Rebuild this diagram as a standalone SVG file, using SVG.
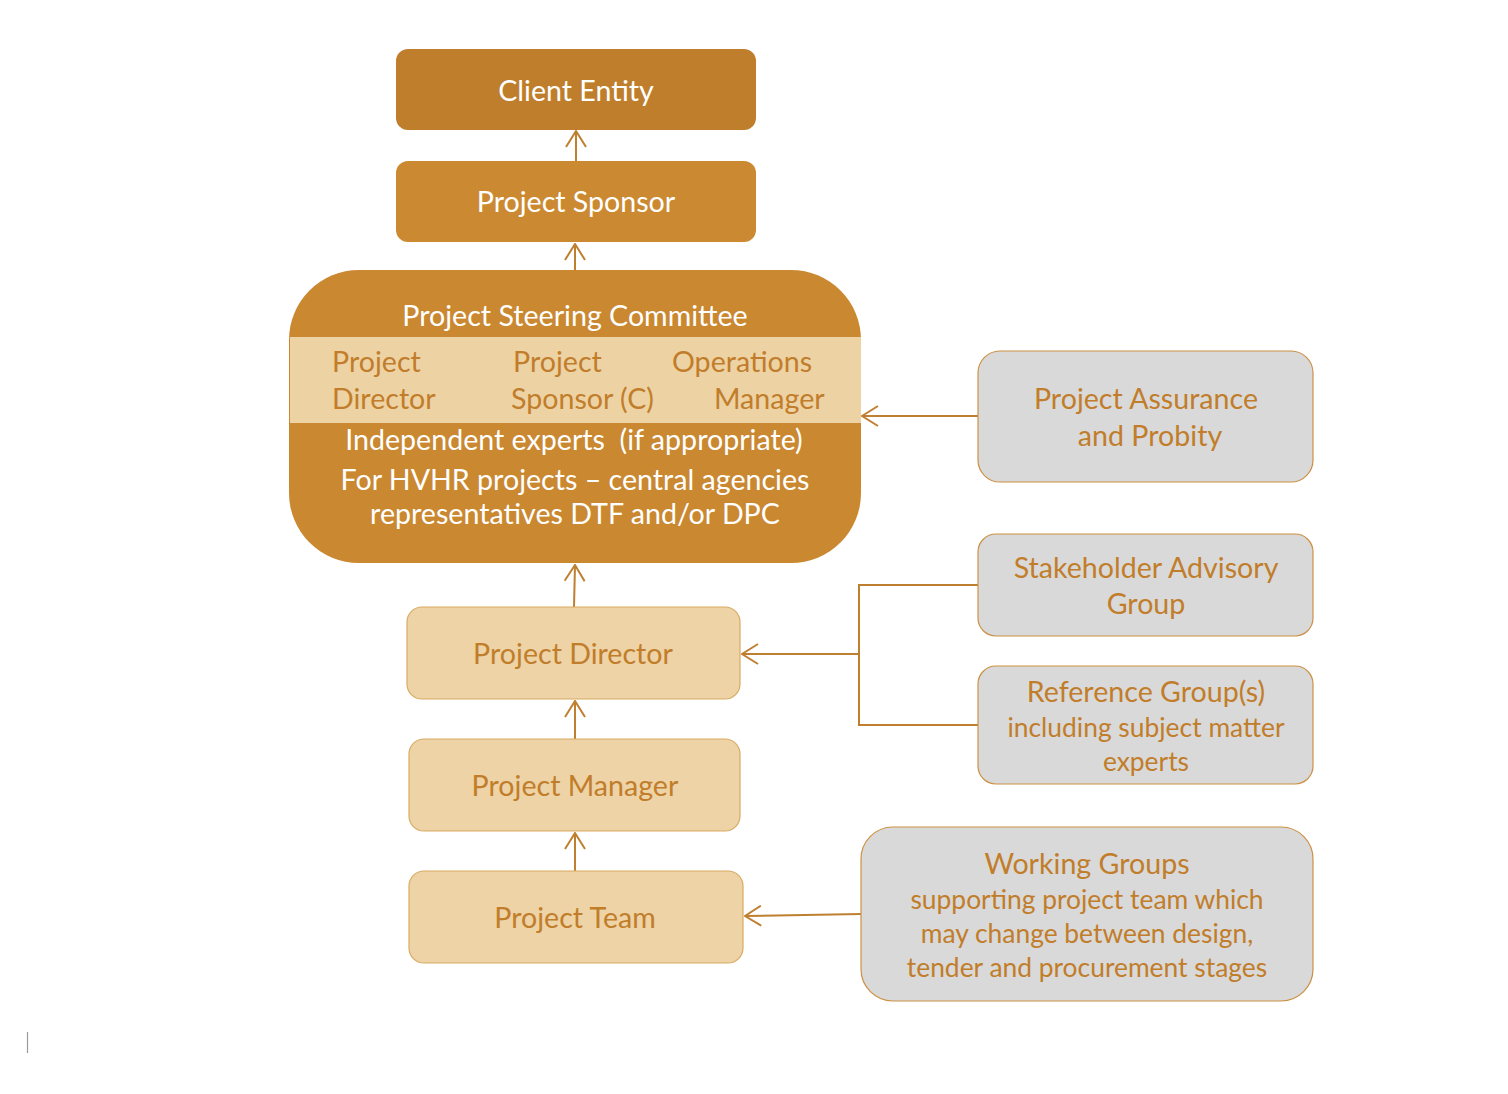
<svg xmlns="http://www.w3.org/2000/svg" width="1508" height="1094" viewBox="0 0 1508 1094">
<style>
.t{font-family:Lato,"Open Sans","Liberation Sans",sans-serif;text-anchor:middle}
.w{fill:#FFFFFF;font-size:28.6px}
.o{fill:#C17D2A;font-size:28.6px}
.s{fill:#C17D2A;font-size:26.4px}
.light{fill:#EDD3A5;stroke:#D9AA63;stroke-width:1.2}
.gray{fill:#D9D9D9;stroke:#CC9045;stroke-width:1.2}
.c{fill:none;stroke:#BF7F31;stroke-width:2}
</style>
<defs>
<marker id="ah" viewBox="0 0 18 22" refX="17" refY="11" markerWidth="18" markerHeight="22" markerUnits="userSpaceOnUse" orient="auto">
<path d="M1,1 L17,11 L1,21" fill="none" stroke="#BF7F31" stroke-width="2"/>
</marker>
</defs>
<rect width="1508" height="1094" fill="#FFFFFF"/>

<g id="connectors">
<line class="c" x1="576" y1="161" x2="576" y2="131" marker-end="url(#ah)"/>
<line class="c" x1="575" y1="270" x2="575" y2="244" marker-end="url(#ah)"/>
<line class="c" x1="574" y1="607" x2="575" y2="565" marker-end="url(#ah)"/>
<line class="c" x1="575" y1="739" x2="575" y2="701" marker-end="url(#ah)"/>
<line class="c" x1="575" y1="871" x2="575" y2="833" marker-end="url(#ah)"/>
<line class="c" x1="978" y1="416" x2="862" y2="416" marker-end="url(#ah)"/>
<polyline class="c" points="978,585 859,585 859,725 978,725"/>
<line class="c" x1="859" y1="654" x2="742" y2="654" marker-end="url(#ah)"/>
<line class="c" x1="861" y1="914" x2="745" y2="916" marker-end="url(#ah)"/>
</g>

<g id="client-entity">
<rect x="396" y="49" width="360" height="81" rx="12" fill="#BE7E2C"/>
<text class="t w" x="576" y="101">Client Entity</text>
</g>

<g id="project-sponsor">
<rect x="396" y="161" width="360" height="81" rx="12" fill="#CB8A31"/>
<text class="t w" x="576" y="212">Project Sponsor</text>
</g>

<g id="steering-committee">
<rect x="289" y="270" width="572" height="293" rx="70" fill="#CA8831"/>
<rect x="290" y="337" width="571" height="86" fill="#EDD2A4"/>
<text class="t w" x="575" y="326">Project Steering Committee</text>
<text class="t o" x="332" y="372" style="text-anchor:start">Project</text>
<text class="t o" x="332" y="409" style="text-anchor:start">Director</text>
<text class="t o" x="513" y="372" style="text-anchor:start">Project</text>
<text class="t o" x="511" y="409" style="text-anchor:start">Sponsor (C)</text>
<text class="t o" x="672" y="372" style="text-anchor:start">Operations</text>
<text class="t o" x="714" y="409" style="text-anchor:start">Manager</text>
<text class="t w" x="574" y="450" xml:space="preserve">Independent experts  (if appropriate)</text>
<text class="t w" x="575" y="490">For HVHR projects – central agencies</text>
<text class="t w" x="575" y="524">representatives DTF and/or DPC</text>
</g>

<g id="project-assurance">
<rect class="gray" x="978" y="351" width="335" height="131" rx="22"/>
<text class="t o" x="1146" y="409">Project Assurance</text>
<text class="t o" x="1150" y="446">and Probity</text>
</g>

<g id="stakeholder-advisory">
<rect class="gray" x="978" y="534" width="335" height="102" rx="18"/>
<text class="t o" x="1146" y="578">Stakeholder Advisory</text>
<text class="t o" x="1146" y="614">Group</text>
</g>

<g id="reference-groups">
<rect class="gray" x="978" y="666" width="335" height="118" rx="18"/>
<text class="t o" x="1146" y="702">Reference Group(s)</text>
<text class="t s" x="1146" y="737">including subject matter</text>
<text class="t s" x="1146" y="771">experts</text>
</g>

<g id="project-director">
<rect class="light" x="407" y="607" width="333" height="92" rx="15"/>
<text class="t o" x="573" y="664">Project Director</text>
</g>

<g id="project-manager">
<rect class="light" x="409" y="739" width="331" height="92" rx="15"/>
<text class="t o" x="575" y="796">Project Manager</text>
</g>

<g id="project-team">
<rect class="light" x="409" y="871" width="334" height="92" rx="15"/>
<text class="t o" x="575" y="928">Project Team</text>
</g>

<g id="working-groups">
<rect class="gray" x="861" y="827" width="452" height="174" rx="32"/>
<text class="t o" x="1087" y="874">Working Groups</text>
<text class="t s" x="1087" y="909">supporting project team which</text>
<text class="t s" x="1087" y="943">may change between design,</text>
<text class="t s" x="1087" y="977">tender and procurement stages</text>
</g>

<line x1="27.5" y1="1032" x2="27.5" y2="1053" stroke="#9A9A9A" stroke-width="1.2"/>
</svg>
